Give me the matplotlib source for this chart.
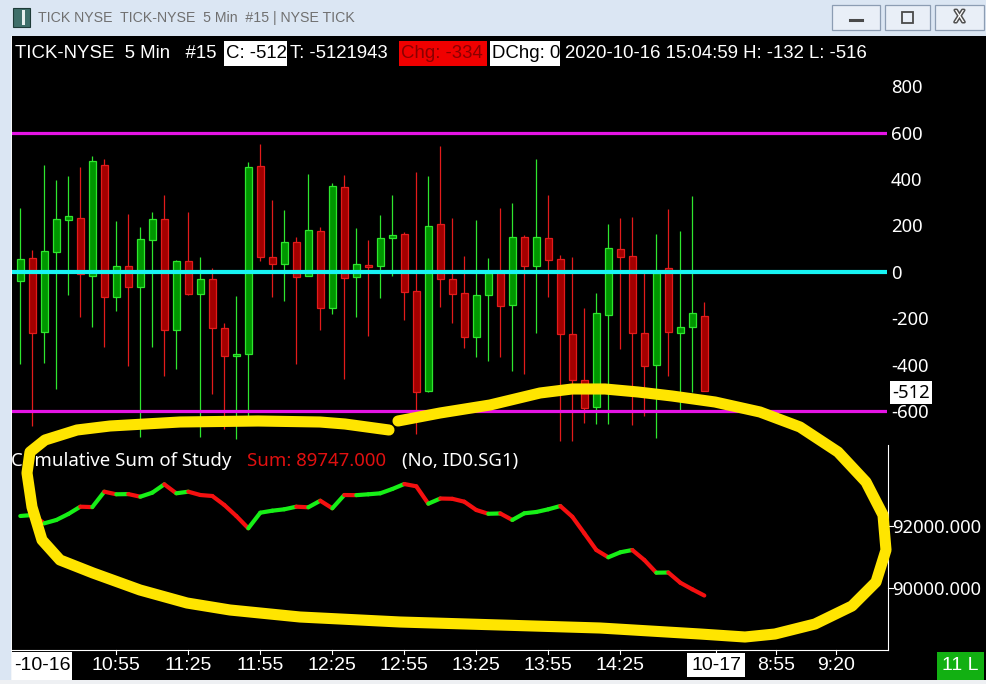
import numpy as np
import matplotlib
matplotlib.use("Agg")
import matplotlib.pyplot as plt
import matplotlib.patheffects as pe
from matplotlib.patches import Rectangle
from matplotlib.collections import LineCollection
from matplotlib.lines import Line2D
import matplotlib.transforms as mtransforms
from matplotlib import font_manager as fm

W, H = 986, 684

# ---------------- data ----------------
opens = [-40, 60, -261, 85, 223, 232, -19, 461, -109, 24,
         -66, 137, 228, -252, 46, -94, -32, -243, -364, -353,
         456, 62, 33, 128, -19, 176, -157, 366, -23, 29,
         23, 145, 163, -84, -516, 206, -32, -92, -279, -101,
         -6, -144, 150, 23, 145, 55, -269, -468, -585, -187,
         98, 68, -265, -403, 16, -265, -239, -192]
highs = [275, 95, 461, 396, 415, 454, 501, 487, 220, 249,
         193, 259, 333, 52, 259, 65, 17, -220, -104, 474,
         552, 310, 266, 148, 422, 193, 383, 418, 189, 138,
         245, 331, 170, 431, 413, 544, 232, 68, 223, 59,
         275, 297, 158, 487, 331, 72, 63, -157, -92, 206,
         232, 236, -6, 163, 271, 176, 327, -132]
lows = [-399, -664, -392, -504, -98, -197, -236, -323, -171, -408,
        -712, -323, -448, -418, -98, -712, -528, -677, -719, -629,
        46, -107, -124, -396, -19, -249, -184, -464, -197, -275,
        -115, -20, -206, -698, -520, -150, -219, -327, -366, -383,
        -366, -426, -439, -262, -107, -730, -730, -651, -655, -655,
        -331, -660, -620, -716, -448, -600, -517, -516]
closes = [55, -265, 89, 228, 240, -10, 478, -109, 24, -66,
          141, 228, -252, 46, -94, -32, -243, -364, -353, 452,
          62, 33, 128, -23, 180, -157, 370, -27, 33, 19,
          145, 158, -89, -520, 197, -33, -94, -279, -101, -4,
          -148, 150, 23, 150, 53, -269, -468, -589, -179, 102,
          63, -265, -408, -6, -261, -239, -178, -512]
cum_sum = [92313, 92345, 92077, 92184, 92377, 92613, 92600, 93097, 93013, 93020,
           92935, 93065, 93335, 93045, 93097, 92990, 92958, 92668, 92313, 91916,
           92419, 92484, 92529, 92613, 92594, 92806, 92561, 92990, 92985, 93013,
           93045, 93184, 93345, 93271, 92710, 92877, 92868, 92774, 92506, 92385,
           92395, 92184, 92400, 92442, 92529, 92635, 92290, 91755, 91216, 90981,
           91142, 91216, 90894, 90484, 90490, 90161, 89948, 89747]
ref_levels = [600, -600]
zero_level = [0]
price_ticks = [800, 600, 400, 200, 0, -200, -400, -600]
sum_ticks = [92000, 90000]
time_tick_bars = [8, 14, 20, 26, 32, 38, 44, 50, 63, 68]
time_tick_labels = ["10:55", "11:25", "11:55", "12:25", "12:55", "13:25",
                    "13:55", "14:25", "8:55", "9:20"]
date_tick_bars = [58]
date_tick_labels = ["10-17"]
last_close = -512
cum_total = "89747.000"

# ---------------- fonts ----------------
names = {f.name for f in fm.fontManager.ttflist}
NARROW = "Liberation Sans Narrow" if "Liberation Sans Narrow" in names else "Liberation Sans"
REG = "Noto Sans"

plt.rcParams["font.family"] = [REG, "DejaVu Sans"]

fig = plt.figure(figsize=(W / 100, H / 100), dpi=100)
fig.patch.set_facecolor("black")


def fx(x):
    return x / W


def fy(y):
    return 1 - y / H


def frect(x0, y0, x1, y1, **kw):
    r = Rectangle((fx(x0), fy(y1)), (x1 - x0) / W, (y1 - y0) / H,
                  transform=fig.transFigure, **kw)
    fig.patches.append(r)
    return r


def ftext(x, y, s, **kw):
    return fig.text(fx(x), fy(y), s, **kw)


# ---------------- window chrome ----------------
frect(0, 0, 986, 36, facecolor="#dbe6f3", edgecolor="none", zorder=1)
frect(0, 0, 11, 684, facecolor="#dbe6f3", edgecolor="none", zorder=1)
frect(0, 680, 986, 684, facecolor="#eef0f3", edgecolor="none", zorder=1)
frect(10.5, 36, 11.5, 680, facecolor="#f4f6f9", edgecolor="none", zorder=1)
# icon
frect(13, 8, 30, 27, facecolor="#3f6f6a", edgecolor="#1e3b38", lw=0.8, zorder=2)
frect(22, 10, 25, 25, facecolor="#e8f0ef", edgecolor="none", zorder=3)
ftext(38, 18, "TICK NYSE  TICK-NYSE  5 Min  #15 | NYSE TICK",
      family=NARROW, fontsize=10.2, color="#707070", va="center", ha="left")
for (x0, x1) in [(832, 880), (885, 930), (935, 984)]:
    frect(x0, 5, x1, 30, facecolor="#e9eff7", edgecolor="#8c9db3", lw=0.9, zorder=2)
fig.lines.append(Line2D([fx(850), fx(862)], [fy(20), fy(20)], transform=fig.transFigure,
                        color="#4a4a4a", lw=2.2, zorder=3))
frect(902, 12, 913, 23, facecolor="none", edgecolor="#4a4a4a", lw=1.3, zorder=3)
ftext(959.5, 18, "X", fontsize=12, color="white", ha="center", va="center",
      fontweight="bold", family=REG, zorder=3,
      path_effects=[pe.withStroke(linewidth=2.2, foreground="#505050")])

# ---------------- axes ----------------
PX0, PX1 = 11, 887
BAR0, BARW = 20.3, 12.0
xl = ((PX0 - BAR0) / BARW, (PX1 - BAR0) / BARW)

TOP0, TOP1 = 37, 443
BOT0, BOT1 = 445, 650


def top_val(y):
    return (271.8 - y) / 0.2319


def bot_val(y):
    return 92000 + (525.7 - y) / 0.031


ax = fig.add_axes([fx(PX0), fy(TOP1), (PX1 - PX0) / W, (TOP1 - TOP0) / H])
ax2 = fig.add_axes([fx(PX0), fy(BOT1), (PX1 - PX0) / W, (BOT1 - BOT0) / H])
for a in (ax, ax2):
    a.set_facecolor("black")
    a.set_xlim(*xl)
    for s in a.spines.values():
        s.set_visible(False)
    a.set_xticks([])
    a.set_yticks([])
ax.set_ylim(top_val(TOP1), top_val(TOP0))
ax2.set_ylim(bot_val(BOT1), bot_val(BOT0))

# candles
n = len(closes)
idx = np.arange(n)
GREEN_FILL, GREEN_EDGE = "#009600", "#2ee62e"
RED_FILL, RED_EDGE = "#a30000", "#e31b1b"
for i in range(n):
    o, h, l, c = opens[i], highs[i], lows[i], closes[i]
    up = c >= o
    edge = GREEN_EDGE if up else RED_EDGE
    fill = GREEN_FILL if up else RED_FILL
    ax.vlines(i, l, h, color=edge, lw=0.9, zorder=2)
    lo, hi = min(o, c), max(o, c)
    ax.add_patch(Rectangle((i - 0.3, lo), 0.6, max(hi - lo, 1.0),
                           facecolor=fill, edgecolor=edge, lw=0.9, zorder=3))

for lv in ref_levels:
    ax.axhline(lv, color="#e614e6", lw=2.3, zorder=5)
for lv in zero_level:
    ax.axhline(lv, color="#17f4f4", lw=3.0, zorder=5)

# cumulative sum line
pts = np.column_stack([idx, cum_sum])
segs = np.stack([pts[:-1], pts[1:]], axis=1)
cols = ["#17f017" if cum_sum[i + 1] >= cum_sum[i] else "#f51010" for i in range(n - 1)]
lc = LineCollection(segs, colors=cols, linewidths=3.0, capstyle="round", zorder=3)
ax2.add_collection(lc)

# ---------------- scales ----------------
tr_top = mtransforms.blended_transform_factory(fig.transFigure, ax.transData)
tr_bot = mtransforms.blended_transform_factory(fig.transFigure, ax2.transData)
tr_x = mtransforms.blended_transform_factory(ax2.transData, fig.transFigure)

for v in price_ticks:
    fig.text(fx(891), v, f"{v}", transform=tr_top, color="white", fontsize=13.3,
             va="center_baseline", ha="left", family=REG)
# current value box
fig.text(fx(892), last_close, f"{last_close}", transform=tr_top, color="black", fontsize=13.3,
         va="center_baseline", ha="left", family=REG, zorder=6,
         bbox=dict(boxstyle="square,pad=0.12", facecolor="white", edgecolor="none"))

# lower scale
fig.lines.append(Line2D([fx(888), fx(888)], [fy(BOT0), fy(BOT1)], transform=fig.transFigure,
                        color="white", lw=0.8, zorder=4))
for v in sum_ticks:
    fig.lines.append(Line2D([fx(888), fx(893)], [v, v], transform=tr_bot,
                            color="white", lw=0.8, zorder=4))
    fig.text(fx(892), v, f"{v:.3f}", transform=tr_bot, color="white", fontsize=13.3,
             va="center_baseline", ha="left", family=REG)

# time scale
fig.lines.append(Line2D([fx(PX0), fx(888)], [fy(BOT1), fy(BOT1)], transform=fig.transFigure,
                        color="white", lw=0.8, zorder=4))
for b, lab in zip(time_tick_bars, time_tick_labels):
    fig.lines.append(Line2D([b, b], [fy(BOT1), fy(BOT1 + 4)], transform=tr_x,
                            color="white", lw=0.8, zorder=4))
    fig.text(b, fy(665), lab, transform=tr_x, color="white", fontsize=14,
             va="center", ha="center", family=NARROW)
for b, lab in zip(date_tick_bars, date_tick_labels):
    fig.lines.append(Line2D([b, b], [fy(BOT1), fy(BOT1 + 4)], transform=tr_x,
                            color="white", lw=0.8, zorder=4))
    fig.text(b, fy(665), lab, transform=tr_x, color="black", fontsize=14,
             va="center", ha="center", family=NARROW,
             bbox=dict(boxstyle="square,pad=0.2", facecolor="white", edgecolor="none"))
frect(12, 652, 72, 680, facecolor="white", edgecolor="none", zorder=2)
ftext(14, 665, "-10-16", family=NARROW, fontsize=14, color="black", va="center", ha="left", zorder=3)
frect(937, 652, 984, 680, facecolor="#12b012", edgecolor="none", zorder=2)
ftext(960.5, 665, "11 L", family=NARROW, fontsize=14, color="white", va="center", ha="center", zorder=3)

# ---------------- header ----------------
HY = 53
HFS = 13.4
ftext(15, HY, "TICK-NYSE  5 Min   #15", family=NARROW, fontsize=HFS, color="white", va="center")
frect(224, 41, 287, 66, facecolor="white", edgecolor="none", zorder=2)
ftext(226, HY, "C: -512", family=NARROW, fontsize=HFS, color="black", va="center", zorder=3)
ftext(290, HY, "T: -5121943", family=NARROW, fontsize=HFS, color="white", va="center")
frect(399, 41, 487, 66, facecolor="#f00000", edgecolor="none", zorder=2)
ftext(401, HY, "Chg: -334", family=NARROW, fontsize=HFS, color="#8a0000", va="center", zorder=3)
frect(490, 41, 560, 66, facecolor="white", edgecolor="none", zorder=2)
ftext(492, HY, "DChg: 0", family=NARROW, fontsize=HFS, color="black", va="center", zorder=3)
ftext(565, HY, "2020-10-16 15:04:59 H: -132 L: -516", family=NARROW, fontsize=HFS,
      color="white", va="center")

# lower panel title
LFS = 13.4
ftext(11, 461, "Cumulative Sum of Study", family=REG, fontsize=LFS, color="white", va="center")
ftext(247, 461, f"Sum: {cum_total}", family=REG, fontsize=LFS, color="#e01010", va="center")
ftext(402, 461, "(No, ID0.SG1)", family=REG, fontsize=LFS, color="white", va="center")

# ---------------- yellow hand-drawn loop (annotation) ----------------
loop_px = [(398, 421), (440, 413), (490, 405), (540, 393), (572, 389), (605, 389),
           (638, 392), (672, 396), (715, 402), (760, 412), (800, 427), (838, 452),
           (866, 482), (883, 515), (886, 550), (876, 582), (852, 606), (815, 624),
           (775, 634), (745, 637), (700, 634), (600, 628), (500, 625), (400, 622),
           (300, 617), (230, 610), (187, 603), (140, 590), (93, 573), (60, 560),
           (42, 540), (32, 507), (27, 473), (30, 452), (45, 440), (77, 430),
           (110, 426), (180, 422), (258, 421), (320, 422), (345, 424), (389, 430)]
lx = [fx(p[0]) for p in loop_px]
ly = [fy(p[1]) for p in loop_px]
fig.lines.append(Line2D(lx, ly, transform=fig.transFigure, color="#ffe500", lw=8.0,
                        solid_capstyle="round", solid_joinstyle="round", zorder=10))

fig.savefig("out.png", dpi=100, facecolor=fig.get_facecolor())
